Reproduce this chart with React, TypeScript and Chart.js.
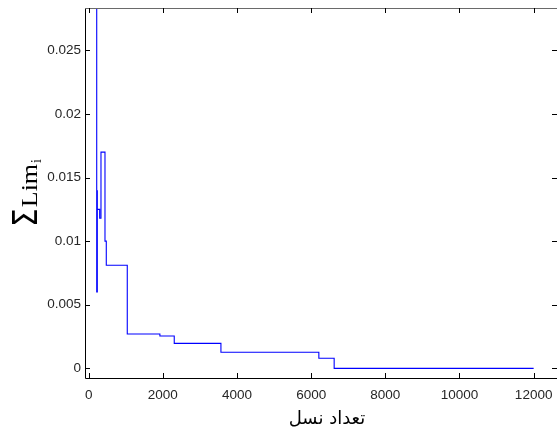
import React, { useEffect, useRef } from 'react';
import { Chart, registerables } from 'chart.js';

Chart.register(...registerables);

// Step (stairs) data: generation at which the value changes, and the value held from there on
const generations = [216, 216, 232, 232, 296, 331, 439, 474, 1040, 1920, 2307, 3566, 6207, 6620, 12000];
const sumLim = [0.06, 0.006, 0.014, 0.0125, 0.0118, 0.017, 0.01, 0.0081, 0.0027, 0.00254, 0.00196, 0.00126, 0.00079, 0, 0];

const xTicks = [0, 2000, 4000, 6000, 8000, 10000, 12000];
const yTicks = [0, 0.005, 0.01, 0.015, 0.02, 0.025];
const xLimits = [-100, 12630];
const yLimits = [-0.00076, 0.02833];

const xTitle = 'تعداد نسل';
const yTitleMain = 'Lim';
const yTitleSigma = 'Σ';
const yTitleSub = 'i';

const TICK_LEN = 5;

const framePlugin = {
  id: 'matlabFrame',
  afterDatasetsDraw(chart: any) {
    const { ctx, chartArea, scales } = chart;
    const { left, right, top, bottom } = chartArea;
    const xs = scales.x;
    const ys = scales.y;
    ctx.save();
    // box
    ctx.lineWidth = 1;
    ctx.strokeStyle = '#000';
    ctx.beginPath();
    ctx.moveTo(Math.round(left) + 0.5, Math.round(top));
    ctx.lineTo(Math.round(left) + 0.5, Math.round(bottom) + 0.5);
    ctx.lineTo(Math.round(right), Math.round(bottom) + 0.5);
    ctx.stroke();
    ctx.strokeStyle = '#6a6a6a';
    ctx.beginPath();
    ctx.moveTo(Math.round(left), Math.round(top) + 0.5);
    ctx.lineTo(Math.round(right), Math.round(top) + 0.5);
    ctx.stroke();
    // inward ticks
    ctx.strokeStyle = '#000';
    ctx.beginPath();
    xTicks.forEach((v) => {
      const px = Math.round(xs.getPixelForValue(v)) + 0.5;
      ctx.moveTo(px, bottom);
      ctx.lineTo(px, bottom - TICK_LEN);
      ctx.moveTo(px, top);
      ctx.lineTo(px, top + TICK_LEN);
    });
    yTicks.forEach((v) => {
      const py = Math.round(ys.getPixelForValue(v)) + 0.5;
      ctx.moveTo(left, py);
      ctx.lineTo(left + TICK_LEN, py);
      ctx.moveTo(right, py);
      ctx.lineTo(right - TICK_LEN, py);
    });
    ctx.stroke();

    // x axis title
    ctx.fillStyle = '#000';
    ctx.font = '18px "DejaVu Sans", sans-serif';
    ctx.textAlign = 'center';
    ctx.textBaseline = 'alphabetic';
    ctx.fillText(xTitle, 327, 424);

    // y axis title: Σ Lim_i rotated
    ctx.translate(37, 227);
    ctx.rotate(-Math.PI / 2);
    ctx.textAlign = 'left';
    ctx.font = '33px "DejaVu Sans", sans-serif';
    ctx.save();
    ctx.scale(0.9, 1);
    ctx.fillText(yTitleSigma, 0, 0);
    const sigW = ctx.measureText(yTitleSigma).width * 0.9;
    ctx.restore();
    ctx.save();
    ctx.font = '26px "Liberation Serif", serif';
    ctx.scale(1, 0.88);
    ctx.fillText(yTitleMain, sigW + 1, 0);
    const limW = ctx.measureText(yTitleMain).width;
    ctx.restore();
    ctx.font = '14px "Liberation Serif", serif';
    ctx.fillText(yTitleSub, sigW + 1 + limW + 1, 4);
    ctx.restore();
  },
};

export default function App() {
  const canvasRef = useRef<HTMLCanvasElement | null>(null);

  useEffect(() => {
    const canvas = canvasRef.current;
    if (!canvas) return;
    const chart = new Chart(canvas, {
      type: 'line',
      data: {
        datasets: [
          {
            data: generations.map((g, i) => ({ x: g, y: sumLim[i] })),
            borderColor: '#0000ff',
            borderWidth: 1.1,
            pointRadius: 0,
            stepped: 'before',
            fill: false,
          },
        ],
      },
      options: {
        responsive: false,
        maintainAspectRatio: false,
        animation: false,
        layout: { padding: { top: 8, right: 0, left: 0, bottom: 0 } },
        plugins: {
          legend: { display: false },
          tooltip: { enabled: false },
        },
        scales: {
          x: {
            type: 'linear',
            min: xLimits[0],
            max: xLimits[1],
            grid: { display: false, drawTicks: false, tickLength: 0 },
            border: { display: false },
            afterBuildTicks: (scale: any) => {
              scale.ticks = xTicks.map((v) => ({ value: v }));
            },
            afterFit: (scale: any) => {
              scale.height = 57;
              scale.paddingLeft = 0;
              scale.paddingRight = 0;
            },
            ticks: {
              autoSkip: false,
              maxRotation: 0,
              padding: 9,
              color: '#262626',
              font: { family: '"Liberation Sans", Arial, sans-serif', size: 13.5 },
              callback: (v: any) => String(v),
            },
          },
          y: {
            type: 'linear',
            min: yLimits[0],
            max: yLimits[1],
            grid: { display: false, drawTicks: false, tickLength: 0 },
            border: { display: false },
            afterBuildTicks: (scale: any) => {
              scale.ticks = yTicks.map((v) => ({ value: v }));
            },
            afterFit: (scale: any) => {
              scale.width = 85;
              scale.paddingTop = 0;
              scale.paddingBottom = 0;
            },
            ticks: {
              autoSkip: false,
              padding: 4,
              color: '#262626',
              font: { family: '"Liberation Sans", Arial, sans-serif', size: 13.5 },
              callback: (v: any) => String(+Number(v).toFixed(4)),
            },
          },
        },
      },
      plugins: [framePlugin],
    });
    return () => chart.destroy();
  }, []);

  return (
    <div style={{ position: 'fixed', left: 0, top: 0, width: 557, height: 435, background: '#fff' }}>
      <canvas ref={canvasRef} width={557} height={435} style={{ display: 'block' }} />
    </div>
  );
}
